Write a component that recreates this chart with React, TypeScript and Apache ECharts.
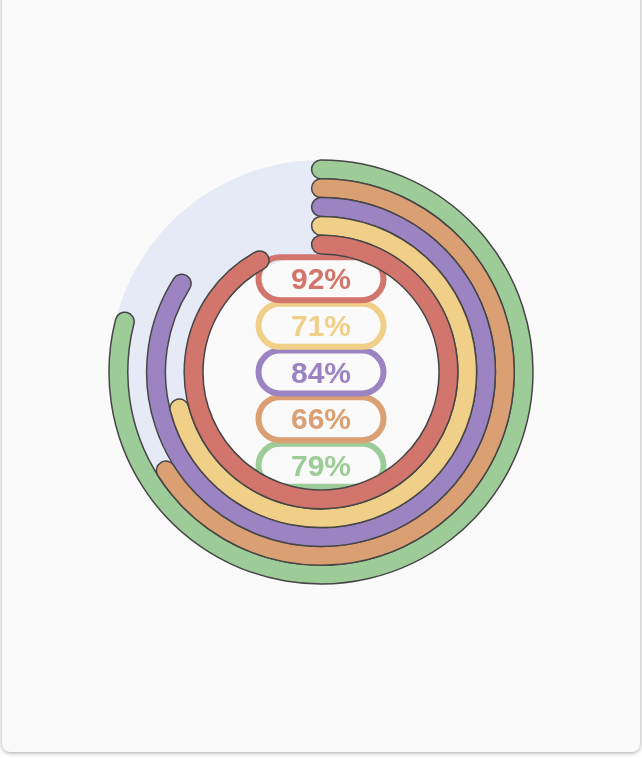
import React, { useEffect, useRef } from "react";
import * as echarts from "echarts";

const names = ["Green", "Orange", "Purple", "Yellow", "Red"];
const values = [79, 66, 84, 71, 92];
const colors = ["#9DCC98", "#DAA074", "#9C83C2", "#F0CF88", "#D2756C"];

export default function App() {
  const ref = useRef<HTMLDivElement>(null);
  useEffect(() => {
    document.body.style.margin = "0";
    document.body.style.background = "#ffffff";
    const chart = echarts.init(ref.current!, null, { renderer: "svg" });
    const data = values.map((v, i) => ({
      value: v,
      name: names[i],
      itemStyle: { color: colors[i] },
      title: { show: false },
      detail: {
        offsetCenter: ["0%", `${(2 - i) * 22}%`],
        color: colors[i],
        borderColor: colors[i],
      },
    }));
    chart.setOption({
      animation: false,
      series: [
        {
          type: "gauge",
          center: [321, 372],
          radius: 212,
          startAngle: 90,
          endAngle: -270,
          min: 0,
          max: 100,
          pointer: { show: false },
          progress: {
            show: true,
            overlap: false,
            roundCap: true,
            clip: false,
            itemStyle: { borderWidth: 1.5, borderColor: "#464646" },
          },
          axisLine: { lineStyle: { width: 94, color: [[1, "#E6EAF7"]] } },
          splitLine: { show: false },
          axisTick: { show: false },
          axisLabel: { show: false },
          title: { show: false },
          detail: {
            width: 125,
            height: 43,
            lineHeight: 43,
            padding: 0,
            fontSize: 30,
            fontWeight: "bold",
            fontFamily: "Liberation Sans, Arial, sans-serif",
            borderRadius: 24,
            borderWidth: 3,
            formatter: "{value}%",
          },
          data,
        },
      ],
    });
    return () => chart.dispose();
  }, []);
  return (
    <div style={{ position: "fixed", left: 0, top: 0, width: 642, height: 758 }}>
      <div
        style={{
          position: "absolute",
          left: 2,
          top: -10,
          width: 638,
          height: 762,
          background: "#fafafa",
          borderRadius: 8,
          boxShadow: "0 1px 4px rgba(0,0,0,0.35)",
        }}
      />
      <div ref={ref} style={{ position: "absolute", left: 0, top: 0, width: 642, height: 758 }} />
    </div>
  );
}
